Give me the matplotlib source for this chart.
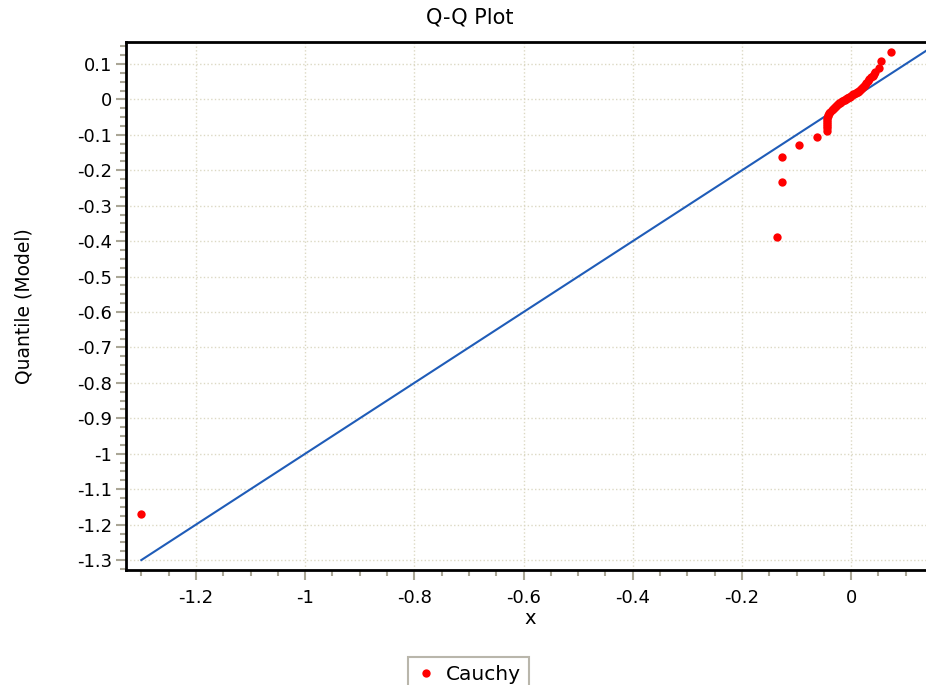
import matplotlib
matplotlib.use('Agg')
import matplotlib.pyplot as plt
from matplotlib.ticker import MultipleLocator, FuncFormatter

plt.rcParams['font.family'] = ['DejaVu Sans']

# sorted sample (x) against model quantiles (y)
x_vals = [-1.301, -0.136, -0.126, -0.126, -0.096, -0.063,
          -0.045, -0.045, -0.045, -0.045, -0.045, -0.044, -0.044, -0.043,
          -0.042, -0.040, -0.038, -0.036, -0.034, -0.032, -0.030, -0.028,
          -0.026, -0.024, -0.022, -0.020, -0.018, -0.016, -0.014, -0.012,
          -0.010, -0.008, -0.006, -0.004, -0.002, 0.000, 0.002, 0.004,
          0.006, 0.008, 0.010, 0.012, 0.014, 0.016, 0.018, 0.020,
          0.022, 0.024, 0.026, 0.028, 0.030, 0.033, 0.036, 0.040,
          0.041, 0.044, 0.051, 0.055, 0.073]
y_vals = [-1.170, -0.387, -0.232, -0.163, -0.130, -0.105,
          -0.088, -0.082, -0.076, -0.070, -0.064, -0.058, -0.053, -0.048,
          -0.043, -0.039, -0.035, -0.031, -0.028, -0.025, -0.022, -0.019,
          -0.016, -0.013, -0.011, -0.009, -0.007, -0.005, -0.003, -0.001,
          0.001, 0.003, 0.005, 0.006, 0.008, 0.010, 0.012, 0.014,
          0.016, 0.018, 0.020, 0.022, 0.024, 0.026, 0.028, 0.031,
          0.034, 0.038, 0.042, 0.047, 0.052, 0.057, 0.062, 0.066,
          0.071, 0.077, 0.090, 0.109, 0.134]
ref_line = [-1.3, 0.14]

fig = plt.figure(figsize=(9.26, 6.85), dpi=100)
ax = fig.add_axes([126/926, 1 - 570/685, 800/926, 528/685])

ax.plot(ref_line, ref_line, '-', color='#1f5cb8', lw=1.5, zorder=2)
ax.plot(x_vals, y_vals, 'o', color='#ff0000', ms=6, mec='none', label='Cauchy', zorder=3)

ax.set_xlim(-1.328, 0.137)
ax.set_ylim(-1.328, 0.162)

def fmt(v, pos):
    v = round(v, 2)
    if v == 0:
        return '0'
    return '%g' % v

ax.xaxis.set_major_locator(MultipleLocator(0.2))
ax.xaxis.set_minor_locator(MultipleLocator(0.05))
ax.yaxis.set_major_locator(MultipleLocator(0.1))
ax.yaxis.set_minor_locator(MultipleLocator(0.025))
ax.xaxis.set_major_formatter(FuncFormatter(fmt))
ax.yaxis.set_major_formatter(FuncFormatter(fmt))

ax.tick_params(which='major', length=7, width=1.5, color='#aaa696', labelsize=13, labelcolor='black')
ax.tick_params(which='minor', length=4.5, width=1.5, color='#aaa696')
ax.tick_params(axis='x', which='major', pad=7)
ax.tick_params(axis='y', which='major', pad=3)

ax.grid(True, which='major', linestyle=':', color='#dcd9c4', lw=1)
for side in ['left', 'bottom', 'top']:
    ax.spines[side].set_linewidth(2)
    ax.spines[side].set_color('black')
ax.spines['right'].set_visible(False)

fig.text(470/926, 1 - 18/685, 'Q-Q Plot', ha='center', va='center', fontsize=15)
fig.text(530/926, 1 - 619/685, 'x', ha='center', va='center', fontsize=14)
fig.text(24/926, 1 - 306/685, 'Quantile (Model)', ha='center', va='center',
         rotation=90, fontsize=13.5)

leg = fig.legend(loc='upper center', bbox_to_anchor=(468.5/926, 1 - 657/685), frameon=True,
                 fancybox=False, edgecolor='#a8a496', fontsize=14.5, markerscale=1.0,
                 handletextpad=0.45, borderpad=0.4, handlelength=1.0, borderaxespad=0)
leg.get_frame().set_linewidth(1.5)

fig.savefig('out.png', dpi=100)
